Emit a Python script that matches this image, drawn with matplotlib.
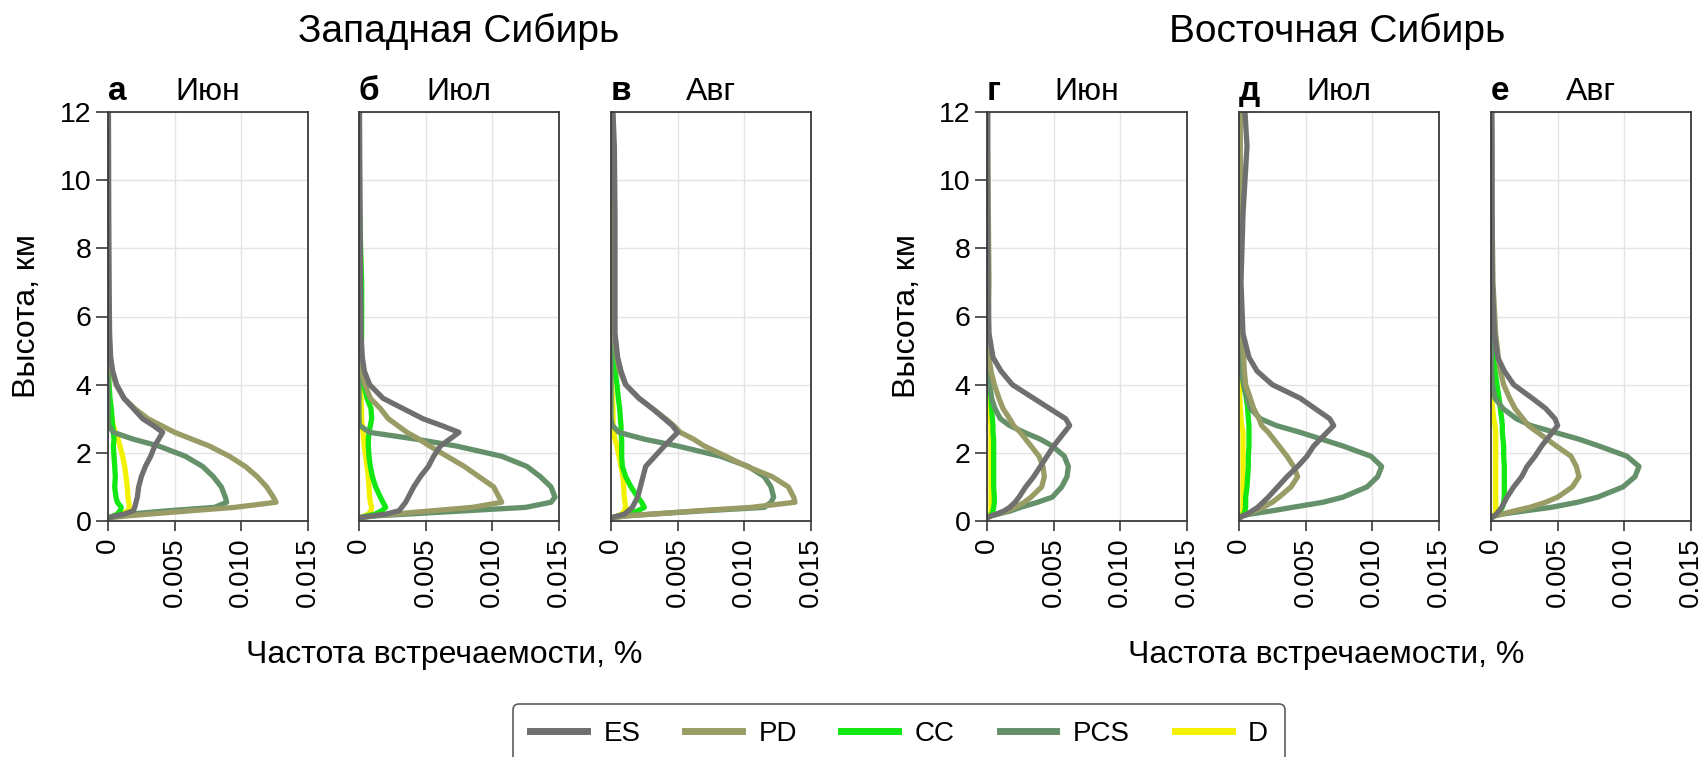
import matplotlib
matplotlib.use("Agg")
import matplotlib.pyplot as plt
from matplotlib.lines import Line2D
import numpy as np

plt.rcParams['font.family'] = ['Liberation Sans', 'DejaVu Sans']

# ---------------- data (frequency values in units of 1e-3 %) ----------------
H = [0.1, 0.15, 0.2, 0.3, 0.4, 0.55, 0.7, 1.0, 1.3, 1.6, 1.9, 2.2, 2.4, 2.6,
     2.8, 3.0, 3.3, 3.6, 4.0, 4.4, 4.8, 5.5, 7.0, 9.0, 11.0, 12.0]

series_names = ['ES', 'PD', 'CC', 'PCS', 'D']
panel_letters = ['а', 'б', 'в', 'г', 'д', 'е']
months = ['Июн', 'Июл', 'Авг', 'Июн', 'Июл', 'Авг']
regions = ['Западная Сибирь', 'Восточная Сибирь']
x_ticks = [0, 0.005, 0.010, 0.015]
x_ticklabels = ['0', '0.005', '0.010', '0.015']
y_ticks = [0, 2, 4, 6, 8, 10, 12]

# Panel а
ES_a = [0.1, 0.6, 1.2, 1.9, 2.0, 2.1, 2.2, 2.3, 2.5, 2.8, 3.2, 3.5, 3.8, 4.1, 3.4, 2.6, 1.9, 1.2, 0.65, 0.35, 0.2, 0.12, 0.08, 0.05, 0.04, 0.03]
PD_a = [0.2, 1.5, 3.0, 6.2, 9.5, 12.6, 12.4, 11.9, 11.2, 10.3, 9.1, 7.6, 6.3, 5.0, 4.0, 3.0, 2.0, 1.2, 0.6, 0.3, 0.15, 0.08, 0.05, 0.04, 0.03, 0.03]
CC_a = [0.1, 0.4, 0.7, 0.9, 1.0, 0.7, 0.6, 0.5, 0.55, 0.5, 0.45, 0.4, 0.45, 0.4, 0.35, 0.3, 0.25, 0.15, 0.08, 0.03, 0.02, 0.02, 0.02, 0.02, 0.02, 0.02]
PCS_a = [0.1, 0.5, 1.5, 4.5, 8.0, 8.9, 8.8, 8.5, 7.9, 7.1, 5.8, 3.8, 1.9, 0.4, 0.05, 0, 0, 0, 0, 0, 0, 0, 0, 0, 0, 0]
D_a = [0.1, 0.5, 1.0, 1.5, 1.6, 1.55, 1.5, 1.45, 1.35, 1.25, 1.1, 0.9, 0.75, 0.55, 0.4, 0.3, 0.2, 0.1, 0.05, 0.02, 0.02, 0.02, 0.02, 0.02, 0.02, 0.02]

# Panel б
ES_b = [0.1, 1.0, 2.0, 3.0, 3.2, 3.5, 3.7, 4.1, 4.6, 5.2, 5.6, 6.1, 6.8, 7.5, 6.2, 4.8, 3.3, 1.8, 0.8, 0.4, 0.25, 0.15, 0.12, 0.08, 0.05, 0.04]
PD_b = [0.1, 1.0, 2.5, 5.5, 8.5, 10.7, 10.5, 10.1, 9.0, 7.9, 6.6, 5.3, 4.5, 3.6, 2.9, 2.2, 1.6, 0.85, 0.45, 0.2, 0.1, 0.05, 0.03, 0.03, 0.02, 0.02]
CC_b = [0.1, 0.6, 1.2, 1.7, 2.0, 1.8, 1.6, 1.25, 1.0, 0.85, 0.75, 0.7, 0.7, 0.75, 0.85, 0.95, 0.9, 0.6, 0.35, 0.2, 0.15, 0.2, 0.2, 0.05, 0.02, 0.02]
PCS_b = [0.1, 1.2, 3.5, 8.0, 12.5, 14.4, 14.7, 14.4, 13.6, 12.6, 10.7, 7.3, 4.3, 0.8, 0.05, 0, 0, 0, 0, 0, 0, 0, 0, 0, 0, 0]
D_b = [0.1, 0.4, 0.7, 0.9, 0.95, 0.85, 0.8, 0.75, 0.7, 0.6, 0.5, 0.4, 0.35, 0.3, 0.25, 0.2, 0.18, 0.15, 0.05, 0.02, 0.02, 0.02, 0.02, 0.02, 0.02, 0.02]

# Panel в
ES_c = [0.1, 0.5, 1.0, 1.3, 1.6, 1.8, 2.0, 2.2, 2.4, 2.6, 3.3, 4.0, 4.5, 5.0, 4.6, 4.0, 3.1, 2.1, 1.1, 0.75, 0.5, 0.3, 0.3, 0.3, 0.25, 0.15]
PD_c = [0.2, 1.2, 3.0, 6.5, 10.5, 13.8, 13.7, 13.3, 12.1, 10.2, 8.6, 7.0, 6.2, 5.2, 4.7, 4.1, 3.1, 2.1, 1.1, 0.65, 0.45, 0.25, 0.15, 0.12, 0.1, 0.08]
CC_c = [0.1, 0.7, 1.3, 2.0, 2.5, 2.3, 2.0, 1.5, 1.1, 0.85, 0.8, 0.8, 0.8, 0.75, 0.75, 0.7, 0.65, 0.55, 0.45, 0.3, 0.15, 0.05, 0.02, 0.02, 0.02, 0.02]
PCS_c = [0.1, 1.0, 3.0, 7.0, 11.5, 12.0, 12.2, 12.0, 11.5, 10.3, 8.2, 5.0, 2.5, 0.6, 0.1, 0, 0, 0, 0, 0, 0, 0, 0, 0, 0, 0]
D_c = [0.1, 0.5, 0.8, 1.0, 1.1, 1.05, 1.0, 0.95, 0.9, 0.75, 0.6, 0.45, 0.3, 0.2, 0.15, 0.15, 0.15, 0.1, 0.05, 0.02, 0.02, 0.02, 0.02, 0.02, 0.02, 0.02]

# Panel г
ES_d = [0.05, 0.3, 0.7, 1.3, 1.7, 2.1, 2.4, 2.9, 3.5, 4.0, 4.5, 5.0, 5.4, 5.8, 6.2, 5.9, 4.7, 3.5, 1.9, 1.05, 0.45, 0.15, 0.08, 0.05, 0.05, 0.05]
PD_d = [0.05, 0.3, 0.7, 1.5, 2.1, 2.8, 3.3, 4.1, 4.3, 4.2, 3.9, 3.3, 2.9, 2.5, 2.0, 1.7, 1.2, 0.9, 0.55, 0.3, 0.15, 0.08, 0.15, 0.1, 0.05, 0.05]
CC_d = [0.05, 0.2, 0.35, 0.45, 0.5, 0.55, 0.55, 0.5, 0.5, 0.5, 0.5, 0.5, 0.5, 0.45, 0.45, 0.4, 0.35, 0.3, 0.2, 0.12, 0.06, 0.03, 0.02, 0.02, 0.02, 0.02]
PCS_d = [0.05, 0.3, 0.8, 1.8, 2.5, 3.8, 4.9, 5.6, 6.0, 6.1, 5.8, 4.9, 4.0, 2.8, 1.7, 1.0, 0.6, 0.35, 0.2, 0.1, 0.05, 0.02, 0.02, 0.02, 0.02, 0.02]
D_d = [0.05, 0.15, 0.25, 0.3, 0.3, 0.3, 0.3, 0.3, 0.3, 0.3, 0.3, 0.3, 0.3, 0.3, 0.3, 0.25, 0.2, 0.1, 0.05, 0.02, 0.02, 0.02, 0.02, 0.02, 0.02, 0.02]

# Panel д
ES_e = [0.05, 0.3, 0.6, 1.0, 1.4, 1.8, 2.2, 2.9, 3.6, 4.4, 5.1, 5.6, 6.1, 6.6, 7.1, 6.8, 5.7, 4.6, 2.5, 1.35, 0.75, 0.3, 0.15, 0.3, 0.6, 0.45]
PD_e = [0.05, 0.3, 0.6, 1.2, 1.8, 2.5, 3.0, 3.9, 4.4, 4.1, 3.6, 3.0, 2.6, 2.2, 1.7, 1.5, 1.1, 0.85, 0.5, 0.4, 0.35, 0.2, 0.1, 0.1, 0.1, 0.1]
CC_e = [0.05, 0.2, 0.35, 0.45, 0.5, 0.5, 0.5, 0.6, 0.65, 0.7, 0.7, 0.75, 0.75, 0.75, 0.75, 0.7, 0.65, 0.55, 0.35, 0.2, 0.1, 0.05, 0.05, 0.08, 0.1, 0.1]
PCS_e = [0.05, 0.3, 0.8, 2.5, 4.0, 6.3, 7.8, 9.6, 10.4, 10.7, 9.9, 7.8, 6.2, 4.6, 2.8, 1.6, 0.85, 0.6, 0.35, 0.2, 0.1, 0.03, 0.02, 0.02, 0.02, 0.02]
D_e = [0.05, 0.15, 0.25, 0.3, 0.3, 0.3, 0.3, 0.3, 0.3, 0.3, 0.3, 0.3, 0.3, 0.3, 0.2, 0.15, 0.1, 0.05, 0.02, 0.02, 0.02, 0.02, 0.02, 0.02, 0.02, 0.02]

# Panel е
ES_f = [0.05, 0.2, 0.4, 0.6, 0.8, 1.0, 1.2, 1.7, 2.3, 2.7, 3.3, 3.8, 4.2, 4.6, 5.0, 4.8, 4.1, 3.1, 1.7, 1.0, 0.5, 0.25, 0.1, 0.08, 0.08, 0.06]
PD_f = [0.05, 0.3, 0.8, 1.8, 2.9, 4.1, 5.0, 6.1, 6.6, 6.4, 6.0, 4.9, 4.2, 3.5, 2.8, 2.4, 1.8, 1.4, 0.95, 0.7, 0.55, 0.35, 0.15, 0.08, 0.05, 0.05]
CC_f = [0.05, 0.3, 0.5, 0.7, 0.85, 0.95, 1.0, 1.0, 1.0, 1.0, 0.95, 0.95, 0.9, 0.85, 0.85, 0.8, 0.7, 0.6, 0.45, 0.3, 0.2, 0.15, 0.05, 0.03, 0.03, 0.03]
PCS_f = [0.05, 0.3, 0.8, 2.6, 4.5, 6.5, 8.0, 9.9, 10.8, 11.1, 10.2, 8.1, 6.6, 4.8, 3.0, 1.9, 0.9, 0.3, 0.1, 0.05, 0.03, 0.02, 0.02, 0.02, 0.02, 0.02]
D_f = [0.05, 0.2, 0.3, 0.35, 0.35, 0.35, 0.35, 0.35, 0.35, 0.35, 0.35, 0.35, 0.35, 0.35, 0.3, 0.2, 0.12, 0.05, 0.02, 0.02, 0.02, 0.02, 0.02, 0.02, 0.02, 0.02]

panels = [
    {'ES': ES_a, 'PD': PD_a, 'CC': CC_a, 'PCS': PCS_a, 'D': D_a},
    {'ES': ES_b, 'PD': PD_b, 'CC': CC_b, 'PCS': PCS_b, 'D': D_b},
    {'ES': ES_c, 'PD': PD_c, 'CC': CC_c, 'PCS': PCS_c, 'D': D_c},
    {'ES': ES_d, 'PD': PD_d, 'CC': CC_d, 'PCS': PCS_d, 'D': D_d},
    {'ES': ES_e, 'PD': PD_e, 'CC': CC_e, 'PCS': PCS_e, 'D': D_e},
    {'ES': ES_f, 'PD': PD_f, 'CC': CC_f, 'PCS': PCS_f, 'D': D_f},
]

colors = {'ES': '#6f6f6f', 'PD': '#9a9c66', 'CC': '#12e812',
          'PCS': '#64916a', 'D': '#f2f200'}
draw_order = ['D', 'CC', 'PCS', 'PD', 'ES']

# ---------------- layout ----------------
W, HP = 1704, 757
fig = plt.figure(figsize=(W / 100, HP / 100), dpi=100)

ax_lefts = [108, 359, 611, 987, 1239, 1491]
ax_w, ax_top, ax_bot = 200, 112, 521

for i in range(6):
    ax = fig.add_axes([ax_lefts[i] / W, 1 - ax_bot / HP, ax_w / W, (ax_bot - ax_top) / HP])
    for j, name in enumerate(draw_order):
        vals = np.array(panels[i][name]) * 1e-3
        ax.plot(vals, H, color=colors[name], lw=3.8, solid_capstyle='round',
                solid_joinstyle='round', zorder=2 + j * 0.01)
    ax.set_xlim(0, 0.015)
    ax.set_ylim(0, 12)
    ax.set_xticks(x_ticks)
    ax.set_xticklabels(x_ticklabels, rotation=90, fontsize=20)
    ax.set_yticks(y_ticks)
    ax.grid(True, color='#e4e4e4', lw=1.0, zorder=0)
    ax.set_axisbelow(True)
    for sp in ax.spines.values():
        sp.set_color('#3a3a3a')
        sp.set_linewidth(1.3)
    ax.tick_params(axis='x', direction='out', length=7, width=1.2,
                   color='#3a3a3a', pad=5)
    if i in (0, 3):
        ax.tick_params(axis='y', direction='out', length=9, width=1.2,
                       color='#3a3a3a', labelsize=20.5, pad=3)
    else:
        ax.tick_params(axis='y', length=0, labelleft=False)
    ty = 1 + 12 / (ax_bot - ax_top)
    ax.text(0.0, ty, panel_letters[i], transform=ax.transAxes, ha='left',
            va='baseline', fontsize=24, fontweight='bold')
    ax.text(0.5, ty, months[i], transform=ax.transAxes, ha='center',
            va='baseline', fontsize=23)

# group titles
fig.text(459 / W, 1 - 42 / HP, regions[0], ha='center', va='baseline', fontsize=28)
fig.text(1337 / W, 1 - 42 / HP, regions[1], ha='center', va='baseline', fontsize=28)

# axis labels
for xc in (27, 907):
    fig.text(xc / W, 1 - 316 / HP, 'Высота, км', rotation=90, ha='center',
             va='center', fontsize=23)
for xc in (444, 1326):
    fig.text(xc / W, 1 - 663 / HP, 'Частота встречаемости, %', ha='center',
             va='baseline', fontsize=23)

# legend
handles = [Line2D([0], [0], color=colors[n], lw=5) for n in series_names]
leg = fig.legend(handles, series_names, loc='upper center',
                 bbox_to_anchor=(899 / W, 1 - 704 / HP), ncol=5, fontsize=20,
                 handlelength=2.05, handletextpad=0.6, columnspacing=1.6,
                 borderaxespad=0, borderpad=0.6, fancybox=True, frameon=True)
leg.get_frame().set_edgecolor('#333333')
leg.get_frame().set_linewidth(1.2)

fig.savefig('out.png', dpi=100)
